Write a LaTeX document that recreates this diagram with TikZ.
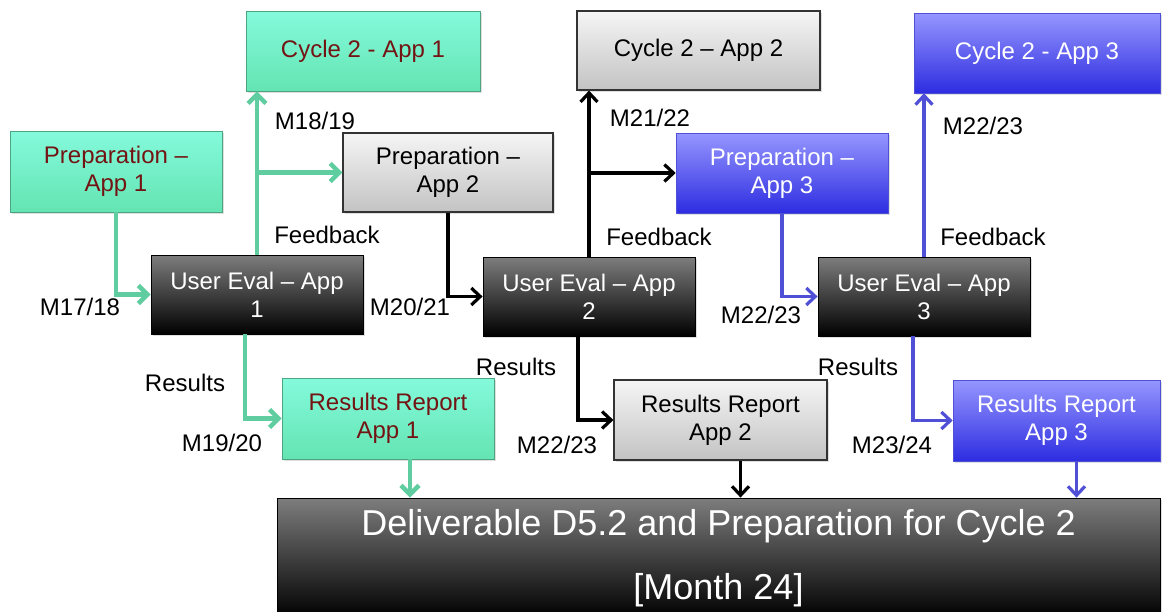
\documentclass[tikz,border=0pt]{standalone}
\usepackage{fontspec}
\setmainfont{Liberation Sans}
\usetikzlibrary{arrows.meta,shadows}
\definecolor{gtop}{RGB}{132,250,220}
\definecolor{gbot}{RGB}{100,228,178}
\definecolor{gline}{RGB}{95,205,160}
\definecolor{gtext}{RGB}{115,20,20}
\definecolor{btop}{RGB}{150,150,255}
\definecolor{bbot}{RGB}{45,45,225}
\definecolor{bline}{RGB}{80,80,215}
\definecolor{ltop}{RGB}{245,245,245}
\definecolor{lbot}{RGB}{195,195,195}
\definecolor{dtop}{RGB}{125,125,125}
\tikzset{
  box/.style={rectangle, inner sep=0pt, align=center, font=\fontsize{24}{28}\selectfont,
    drop shadow={shadow xshift=2pt, shadow yshift=-2pt, opacity=0.25}},
  gbox/.style={box, draw=gline!80!black, line width=0.6pt, top color=gtop, bottom color=gbot, text=gtext},
  lbox/.style={box, draw=black!80, line width=1.2pt, top color=ltop, bottom color=lbot, text=black},
  bbox/.style={box, draw=bline, line width=0.6pt, top color=btop, bottom color=bbot, text=white},
  dbox/.style={box, draw=black, line width=0.8pt, top color=dtop, bottom color=black, text=white},
  lab/.style={font=\fontsize{24}{27}\selectfont, inner sep=0pt, text=black},
  garr/.style={draw=gline, line width=4.5pt, -{Straight Barb[length=9pt,width=18pt]}},
  karr/.style={draw=black, line width=3.2pt, -{Straight Barb[length=9pt,width=17pt]}},
  barr/.style={draw=bline, line width=3.2pt, -{Straight Barb[length=9pt,width=17pt]}},
}
\begin{document}
\begin{tikzpicture}[x=1pt,y=-1pt]
\useasboundingbox (0,0) rectangle (1163,611);
\fill[white] (0,0) rectangle (1163,611);
% boxes
\node[gbox, minimum width=234pt, minimum height=80pt] (c1) at (363,51) {Cycle 2 - App 1};
\node[gbox, minimum width=212pt, minimum height=81pt] (p1) at (116,171.5) {Preparation --\\App 1};
\node[lbox, minimum width=210pt, minimum height=79pt] (p2) at (448,172.5) {Preparation --\\App 2};
\node[lbox, minimum width=243pt, minimum height=79pt] (c2) at (698.5,50.5) {Cycle 2 -- App 2};
\node[bbox, minimum width=212pt, minimum height=80pt] (p3) at (782,173) {Preparation --\\App 3};
\node[bbox, minimum width=246pt, minimum height=80pt] (c3) at (1037,53) {Cycle 2 - App 3};
\node[dbox, minimum width=212pt, minimum height=79pt] (u1) at (257,294.5) {User Eval -- App\\1};
\node[dbox, minimum width=212pt, minimum height=79pt] (u2) at (589,296.5) {User Eval -- App\\2};
\node[dbox, minimum width=212pt, minimum height=79pt] (u3) at (924,296.5) {User Eval -- App\\3};
\node[gbox, minimum width=212pt, minimum height=81pt] (r1) at (388,418.5) {Results Report\\App 1};
\node[lbox, minimum width=213pt, minimum height=80pt] (r2) at (720.5,420) {Results Report\\App 2};
\node[bbox, minimum width=207pt, minimum height=81pt] (r3) at (1056.5,420.5) {Results Report\\App 3};
\node[dbox, minimum width=883pt, minimum height=120pt, font=\fontsize{36}{42}\selectfont] (d) at (718.5,558) {Deliverable D5.2 and Preparation for Cycle 2\\[22pt][Month 24]};
% labels
\node[lab] (l1) at (80,307) {M17/18};
\node[lab] (l2) at (315,121) {M18/19};
\node[lab] (l3) at (327,235) {Feedback};
\node[lab] (l4) at (185,383) {Results};
\node[lab] (l5) at (222,443) {M19/20};
\node[lab] (l6) at (410,307) {M20/21};
\node[lab] (l7) at (650,118) {M21/22};
\node[lab] (l8) at (659,237) {Feedback};
\node[lab] (l9) at (516,367) {Results};
\node[lab] (l10) at (557,445) {M22/23};
\node[lab] (l11) at (761,315) {M22/23};
\node[lab] (l12) at (983,126) {M22/23};
\node[lab] (l13) at (993,237) {Feedback};
\node[lab] (l14) at (858,367) {Results};
\node[lab] (l15) at (892,445) {M23/24};
% App 1 connectors (green)
\draw[garr] (p1.south) |- (u1.west);
\draw[garr] (u1.north) -- (u1.north |- c1.south);
\draw[garr] (u1.north |- p2.west) -- (p2.west);
\draw[garr] ([xshift=-12pt]u1.south) |- (r1.west);
\draw[garr] ([xshift=22pt]r1.south) -- ([xshift=22pt]r1.south |- d.north);
% App 2 connectors (black)
\draw[karr] (p2.south) |- (u2.west);
\draw[karr] (u2.north) -- (u2.north |- c2.south);
\draw[karr] (u2.north |- p3.west) -- (p3.west);
\draw[karr] ([xshift=-11pt]u2.south) |- (r2.west);
\draw[karr] ([xshift=20pt]r2.south) -- ([xshift=20pt]r2.south |- d.north);
% App 3 connectors (blue)
\draw[barr] (p3.south) |- (u3.west);
\draw[barr] (u3.north) -- (u3.north |- c3.south);
\draw[barr] ([xshift=-11pt]u3.south) |- (r3.west);
\draw[barr] ([xshift=20pt]r3.south) -- ([xshift=20pt]r3.south |- d.north);
\end{tikzpicture}
\end{document}
